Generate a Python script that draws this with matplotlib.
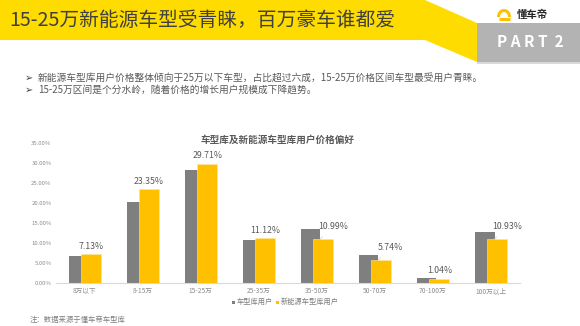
import matplotlib.pyplot as plt
from matplotlib.patches import Polygon, Rectangle, Arc

plt.rcParams['font.family'] = ['Noto Sans CJK SC', 'DejaVu Sans']

categories = ["8万以下", "8-15万", "15-25万", "25-35万", "35-50万", "50-70万", "70-100万", "100万以上"]
all_users = [6.8, 20.1, 28.2, 10.8, 13.5, 7.0, 1.2, 12.7]
nev_users = [7.13, 23.35, 29.71, 11.12, 10.99, 5.74, 1.04, 10.93]
series_names = ["车型库用户", "新能源车型库用户"]
header = "15-25万新能源车型受青睐，百万豪车谁都爱"
bullets = ["新能源车型库用户价格整体倾向于25万以下车型，占比超过六成，15-25万价格区间车型最受用户青睐。",
           "15-25万区间是个分水岭，随着价格的增长用户规模成下降趋势。"]
chart_title = "车型库及新能源车型库用户价格偏好"
note = "注：数据来源于懂车帝车型库"

W, H = 580, 326
fig = plt.figure(figsize=(W / 100, H / 100), dpi=100)

# page layer in pixel coordinates
bg = fig.add_axes([0, 0, 1, 1])
bg.set_xlim(0, W)
bg.set_ylim(H, 0)
bg.axis("off")

yellow_band = "#ffdc00"
bg.add_patch(Polygon([(0, 0), (425, 0), (477, 23), (477, 62), (425, 40), (0, 40)],
                     closed=True, color=yellow_band, lw=0))
bg.add_patch(Rectangle((477, 62), 103, 2, color="#d9d9d9", lw=0))
bg.add_patch(Rectangle((477, 23), 103, 39, color="#b3b3b3", lw=0))
bg.text(9, 21, header, fontsize=14.2, color="#404040", va="center", ha="left")
bg.text(530, 42, "P A R T  2", fontsize=11, color="white", fontweight="bold", va="center", ha="center")

# logo
bg.add_patch(Arc((504, 17), 11, 13, theta1=180, theta2=360, color="#ffc000", lw=2.2))
bg.plot([498.5, 509.5], [18.5, 18.5], color="#ffc000", lw=2.2, solid_capstyle="butt")
bg.text(517, 15, "懂车帝", fontsize=7.5, color="#262626", fontweight="bold", va="center", ha="left")

for k, line in enumerate(bullets):
    y = 78 + k * 12
    bg.text(25, y, "➢", fontsize=7, color="#404040", va="center", ha="left")
    bg.text(38, y, line, fontsize=7, color="#595959", va="center", ha="left")

bg.text(278, 140, chart_title, fontsize=6.9, color="#595959", fontweight="bold", va="center", ha="center")
bg.text(30, 320, note, fontsize=5.3, color="#7f7f7f", va="center", ha="left")

# legend
bg.add_patch(Rectangle((231.5, 300.5), 3.5, 3.5, color="#7f7f7f", lw=0))
bg.text(237, 302.3, series_names[0], fontsize=5.2, color="#7f7f7f", va="center", ha="left")
bg.add_patch(Rectangle((275.5, 300.5), 3.5, 3.5, color="#ffc000", lw=0))
bg.text(281, 302.3, series_names[1], fontsize=5.2, color="#7f7f7f", va="center", ha="left")

# chart
left, right, zero, top = 55.7, 520, 283, 142.6
ax = fig.add_axes([left / W, (H - zero) / H, (right - left) / W, (zero - top) / H])
ax.patch.set_alpha(0)
x = list(range(len(categories)))
ax.bar([i - 0.109 for i in x], all_users, width=0.34, color="#7f7f7f", zorder=2)
ax.bar([i + 0.109 for i in x], nev_users, width=0.34, color="#ffc000", edgecolor="#ffe699", lw=0.4, zorder=3)

for i, v in enumerate(nev_users):
    xc = i + 0.109
    if all_users[i] > v + 1:
        ax.annotate(f"{v:.2f}%", xy=(xc - 0.05, v), xytext=(9, 9), textcoords="offset points",
                    fontsize=6.3, color="#595959", ha="center", va="center",
                    arrowprops=dict(arrowstyle="-", color="#d0d0d0", lw=0.5, shrinkA=3, shrinkB=0))
    else:
        ax.annotate(f"{v:.2f}%", xy=(xc, v), xytext=(0, 5.8), textcoords="offset points",
                    fontsize=6.3, color="#595959", ha="center", va="center")

ax.set_xlim(-0.5, len(categories) - 0.5)
ax.set_ylim(0, 35)
ax.set_yticks(range(0, 36, 5))
ax.set_yticklabels([f"{t:.2f}%" for t in range(0, 36, 5)], fontsize=4.3, color="#8c8c8c")
ax.set_xticks(x)
ax.set_xticklabels(categories, fontsize=4.8, color="#8c8c8c")
ax.tick_params(length=0)
ax.tick_params(axis="x", pad=3)
ax.tick_params(axis="y", pad=3)
for s in ["top", "right", "left"]:
    ax.spines[s].set_visible(False)
ax.spines["bottom"].set_color("#d9d9d9")
ax.spines["bottom"].set_linewidth(0.8)

fig.savefig("out.png", dpi=100)
